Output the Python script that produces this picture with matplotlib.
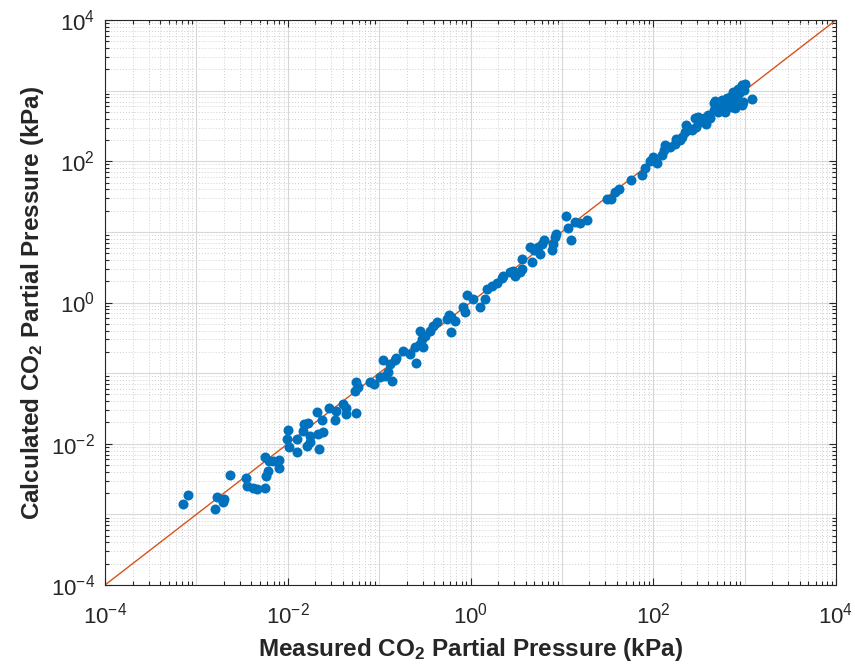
import numpy as np
import matplotlib
matplotlib.use("Agg")
import matplotlib.pyplot as plt
from matplotlib.ticker import LogLocator, LogFormatterMathtext, NullFormatter

plt.rcParams["font.family"] = ["Liberation Sans", "DejaVu Sans"]
plt.rcParams["mathtext.fontset"] = "custom"
plt.rcParams["mathtext.rm"] = "Liberation Sans"
plt.rcParams["mathtext.bf"] = "Liberation Sans:bold"
plt.rcParams["mathtext.it"] = "Liberation Sans:italic"

# log10 of measured / calculated CO2 partial pressure (kPa)
measured_log10 = [
    -3.15, -3.09, -2.80, -2.77, -2.71, -2.70, -2.63, -2.46, -2.45, -2.38,
    -2.34, -2.25, -2.24, -2.22, -2.25, -2.21, -2.16, -2.10, -2.10, -2.00,
    -2.01, -1.99, -1.90, -1.90, -1.82, -1.78, -1.76, -1.79, -1.76, -1.68,
    -1.67, -1.66, -1.61, -1.63, -1.55, -1.48, -1.47, -1.39, -1.36, -1.83,
    -1.36, -1.25, -1.26, -1.23, -1.25, -1.10, -1.06, -0.99, -0.94, -0.86,
    -0.90, -0.96, -0.88, -0.83, -0.81, -0.74, -0.66, -0.60, -0.61, -0.55,
    -0.52, -0.53, -0.55, -0.50, -0.44, -0.41, -0.37, -0.26, -0.21, -0.24,
    -0.17, -0.21, -0.08, -0.06, -0.04, 0.03, 0.10, 0.16, 0.18, 0.23,
    0.29, 0.34, 0.36, 0.43, 0.49, 0.47, 0.54, 0.56, 0.56, 0.67,
    0.65, 0.70, 0.74, 0.78, 0.80, 0.76, 0.89, 0.90, 0.92, 0.94,
    1.05, 1.07, 1.10, 1.14, 1.20, 1.27, 1.49, 1.54, 1.58, 1.63,
    1.76, 1.88, 1.91, 1.96, 2.00, 2.04, 2.10, 2.13, 2.18, 2.24,
    2.25, 2.31, 2.35, 2.36, 2.42, 2.46, 2.47, 2.51, 2.55, 2.58,
    2.60, 2.66, 2.67, 2.73, 2.75, 2.78, 2.80, 2.84, 2.86, 2.87,
    2.91, 2.93, 2.97, 3.00, 2.97, 2.98, 3.08, 2.89, 2.62, 2.71,
    2.81, 2.87, 2.94, 2.99, 2.38, 2.49, 2.12, 2.29, 2.75, 2.68,
]
calculated_log10 = [
    -2.86, -2.73, -2.92, -2.76, -2.83, -2.78, -2.44, -2.48, -2.60, -2.62,
    -2.64, -2.63, -2.45, -2.38, -2.19, -2.24, -2.24, -2.23, -2.34, -1.81,
    -1.93, -2.05, -1.93, -2.11, -1.72, -1.70, -1.89, -2.03, -1.98, -1.55,
    -1.86, -2.08, -1.84, -1.66, -1.49, -1.67, -1.53, -1.44, -1.58, -1.82,
    -1.49, -1.56, -1.25, -1.20, -1.13, -1.13, -1.15, -1.06, -1.04, -1.11,
    -0.99, -0.81, -0.87, -0.82, -0.78, -0.68, -0.73, -0.85, -0.63, -0.59,
    -0.63, -0.52, -0.41, -0.47, -0.40, -0.33, -0.28, -0.23, -0.21, -0.18,
    -0.26, -0.42, -0.07, -0.14, 0.10, 0.05, -0.07, 0.05, 0.19, 0.24,
    0.27, 0.34, 0.38, 0.43, 0.38, 0.45, 0.43, 0.48, 0.62, 0.57,
    0.78, 0.74, 0.78, 0.83, 0.88, 0.69, 0.74, 0.83, 0.93, 0.97,
    1.23, 1.05, 0.89, 1.14, 1.12, 1.17, 1.46, 1.47, 1.56, 1.61,
    1.73, 1.81, 1.90, 2.01, 2.06, 1.97, 2.09, 2.23, 2.20, 2.25,
    2.32, 2.34, 2.42, 2.51, 2.44, 2.61, 2.49, 2.56, 2.61, 2.53,
    2.65, 2.72, 2.82, 2.77, 2.87, 2.70, 2.82, 2.91, 2.77, 2.98,
    2.91, 3.03, 3.08, 3.10, 2.79, 2.84, 2.88, 2.75, 2.61, 2.70,
    2.89, 2.82, 2.96, 3.01, 2.47, 2.62, 2.16, 2.30, 2.75, 2.85,
]

axis_limits = [1e-4, 1e4]

measured = 10.0 ** np.array(measured_log10)
calculated = 10.0 ** np.array(calculated_log10)

blue = "#0072BD"
orange = "#D95319"
axcol = "#262626"

fig = plt.figure(figsize=(8.55, 6.67), dpi=100)
ax = fig.add_axes([105 / 855, 1 - 585 / 667, 731 / 855, 565 / 667])
ax.set_xscale("log")
ax.set_yscale("log")

ax.plot(measured, calculated, "o", color=blue, markersize=7.2,
        markeredgewidth=0, zorder=3)
ax.plot(axis_limits, axis_limits, "-", color=orange, linewidth=1.0, zorder=2)

ax.set_xlim(axis_limits)
ax.set_ylim(axis_limits)

for axis in (ax.xaxis, ax.yaxis):
    axis.set_minor_locator(LogLocator(base=10, subs=np.arange(2, 10), numticks=20))
    axis.set_minor_formatter(NullFormatter())

ax.set_xticks([1e-4, 1e-2, 1e0, 1e2, 1e4])
ax.set_yticks([1e-4, 1e-2, 1e0, 1e2, 1e4])
ax.xaxis.set_major_formatter(LogFormatterMathtext())
ax.yaxis.set_major_formatter(LogFormatterMathtext())

# decade grid lines (every power of ten) and dotted minor grid
for d in range(-4, 5):
    ax.axvline(10.0 ** d, color="#d8d8d8", linewidth=0.8, zorder=0)
    ax.axhline(10.0 ** d, color="#d8d8d8", linewidth=0.8, zorder=0)
ax.grid(which="minor", color="#d0d0d0", linestyle=(0, (1, 2)), linewidth=0.7, zorder=0)
ax.set_axisbelow(True)

ax.tick_params(which="both", direction="in", top=True, right=True,
               colors=axcol, labelcolor=axcol, labelsize=16, width=0.8)
ax.tick_params(which="major", length=5)
ax.tick_params(axis="x", which="major", pad=13)
ax.tick_params(axis="y", which="major", pad=7)
ax.tick_params(which="minor", length=3)
for sp in ax.spines.values():
    sp.set_color(axcol)
    sp.set_linewidth(0.8)

ax.set_xlabel(r"Measured CO$_\mathbf{2}$ Partial Pressure (kPa)",
              fontsize=17.5, fontweight="bold", color=axcol, labelpad=5)
ax.set_ylabel(r"Calculated CO$_\mathbf{2}$ Partial Pressure (kPa)",
              fontsize=17.5, fontweight="bold", color=axcol, labelpad=4)

fig.savefig("out.png", dpi=100, facecolor="white")
